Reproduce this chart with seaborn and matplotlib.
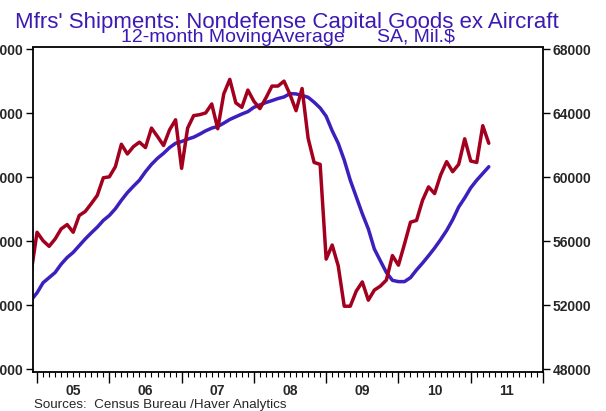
import matplotlib
matplotlib.use("Agg")
import matplotlib.pyplot as plt
import matplotlib.transforms as mtransforms
from matplotlib.ticker import MultipleLocator, NullFormatter
import seaborn as sns
import pandas as pd

# monthly, Dec 2004 .. Apr 2011 (Mil. $, SA)
months = pd.date_range("2004-12-01", "2011-04-01", freq="MS")
shipments = [
    54000,
    56560, 56030, 55680, 56140, 56770, 57040, 56560, 57610, 57860, 58350, 58870, 59970,
    60030, 60660, 62070, 61460, 61920, 62200, 61860, 63080, 62550, 61990, 62970, 63600,
    60560, 63080, 63860, 63920, 64030, 64590, 63040, 65220, 66130, 64660, 64380, 65460,
    64760, 64300, 64970, 65710, 65710, 66020, 65180, 64170, 65560, 62450, 60930, 60810,
    54880, 55760, 54460, 51930, 51930, 52880, 53450, 52310, 52940, 53190, 53570, 55100,
    54500, 55820, 57190, 57300, 58560, 59400, 58980, 60140, 60980, 60350, 60810, 62410,
    61020, 60930, 63230, 62130,
]
moving_avg = [
    52300,
    52770, 53400, 53720, 54040, 54560, 54980, 55300, 55720, 56140, 56520, 56880, 57300,
    57610, 58030, 58560, 59040, 59440, 59820, 60350, 60810, 61190, 61500, 61860, 62130,
    62240, 62390, 62510, 62700, 62910, 63080, 63180, 63390, 63620, 63790, 63960, 64110,
    64380, 64530, 64680, 64800, 64930, 65030, 65240, 65220, 65120, 65010, 64700, 64340,
    63820, 62910, 62130, 61080, 59820, 58770, 57720, 56770, 55510, 54770, 54040, 53550,
    53470, 53470, 53720, 54200, 54630, 55090, 55570, 56100, 56670, 57340, 58140, 58710,
    59340, 59820, 60240, 60660,
]
years = [2005, 2006, 2007, 2008, 2009, 2010, 2011]
year_labels = ["05", "06", "07", "08", "09", "10", "11"]
y_ticks = [48000, 52000, 56000, 60000, 64000, 68000]

df = pd.DataFrame({
    "t": months.year + (months.month - 1) / 12,
    "shipments": shipments,
    "moving_avg": moving_avg,
})

red = "#A3001F"
blue = "#3D1FBE"
title_color = "#3C1AB4"

sns.set_style("ticks")
plt.rcParams["font.family"] = ["Liberation Sans", "DejaVu Sans"]

fig = plt.figure(figsize=(6.06, 4.11), dpi=100)
# frame sits a couple of pixels outside the 48000..68000 range
ax = fig.add_axes([33 / 606, 39.5 / 411, 510 / 606, 324 / 411])

sns.lineplot(data=df, x="t", y="moving_avg", color=blue, linewidth=2.5, ax=ax)
sns.lineplot(data=df, x="t", y="shipments", color=red, linewidth=2.5, ax=ax)

ax.set_xlim(2004.944, 2012.0)
ax.set_ylim(47844, 68125)
ax.set_xlabel("")
ax.set_ylabel("")

# x axis: year ticks, monthly minor ticks, labels centred in each year
ax.set_xticks(years + [2012])
ax.xaxis.set_major_formatter(NullFormatter())
ax.xaxis.set_minor_locator(MultipleLocator(1 / 12))
ax.tick_params(axis="x", which="major", direction="out", length=8, width=1, color="black")
ax.tick_params(axis="x", which="minor", direction="out", length=3.5, width=0.8, color="black")
trans = mtransforms.blended_transform_factory(ax.transData, ax.transAxes)
for yr, lab in zip(years, year_labels):
    ax.text(yr + 0.5, -0.06, lab, transform=trans, ha="center", va="center",
            fontsize=10, fontweight="bold")

# y axis labelled on both sides
ax.set_yticks(y_ticks)
ax.set_yticklabels([str(v) for v in y_ticks])
ax.tick_params(axis="y", which="both", left=True, right=True, labelleft=True,
               labelright=True, direction="out", length=5, width=1, pad=2,
               labelsize=10, color="black")
for lab in ax.get_yticklabels():
    lab.set_fontweight("bold")
ax.yaxis.set_tick_params(which="minor", left=False, right=False)

for s in ax.spines.values():
    s.set_linewidth(1.3)
    s.set_color("black")

fig.text(287 / 606, 1 - 28 / 411, "Mfrs' Shipments: Nondefense Capital Goods ex Aircraft",
         ha="center", va="baseline", fontsize=16, color=title_color)
fig.text(288 / 606, 1 - 41.5 / 411, "12-month MovingAverage      SA, Mil.$",
         ha="center", va="baseline", fontsize=14, color=title_color)
fig.text(34 / 606, 1 - 407.5 / 411, "Sources:  Census Bureau /Haver Analytics",
         ha="left", va="baseline", fontsize=9.6)

fig.savefig("out.png", dpi=100)
